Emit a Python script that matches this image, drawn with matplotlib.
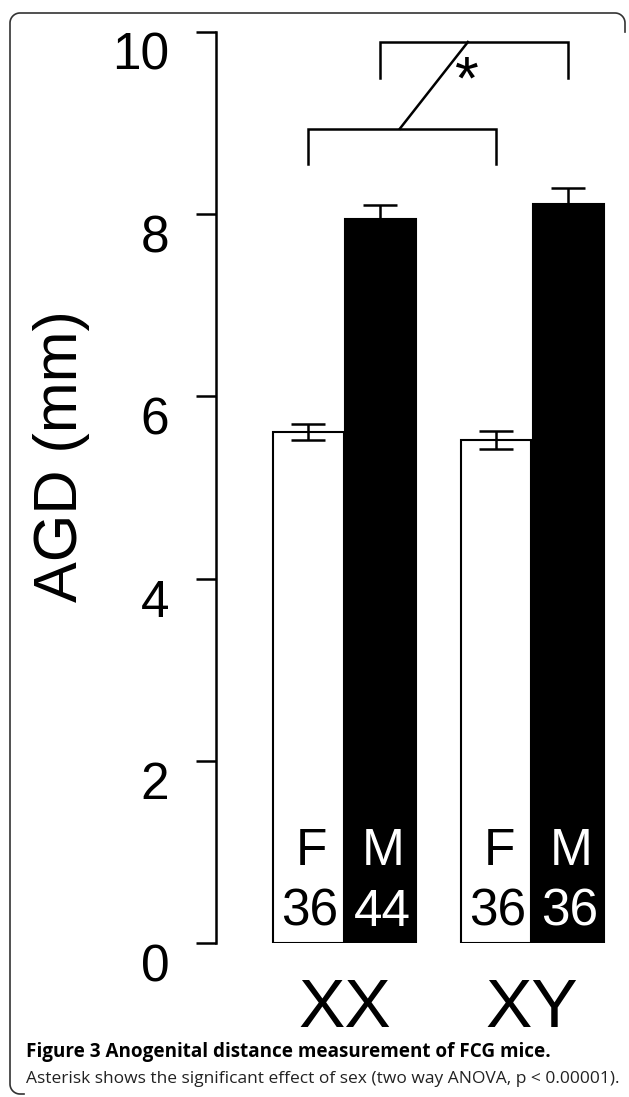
import numpy as np
import matplotlib
matplotlib.use("Agg")
import matplotlib.pyplot as plt
from matplotlib.lines import Line2D

plt.rcParams['font.family'] = ['Liberation Sans', 'DejaVu Sans']

# data
groups = ['XX', 'XY']
sexes = ['F', 'M', 'F', 'M']
agd_mean = [5.61, 7.95, 5.52, 8.11]
agd_sem = [0.09, 0.15, 0.10, 0.18]
n_mice = [36, 44, 36, 36]
bar_pos = [0.0, 1.0, 2.6, 3.6]
bar_colors = ['white', 'black', 'white', 'black']
text_colors = ['black', 'white', 'black', 'white']
yticks = [0, 2, 4, 6, 8, 10]

# significance brackets (female pair below, male pair above)
lower_br = 8.94
upper_br = 9.89
leg_drop = 0.39

W, H = 629, 1097
fig = plt.figure(figsize=(W / 100, H / 100), dpi=100)
ax_left, ax_top, ax_bot = 215.7, 32, 943
ax = fig.add_axes([ax_left / W, 1 - ax_bot / H, (W - ax_left) / W, (ax_bot - ax_top) / H])

ax.bar(bar_pos, agd_mean, width=0.98, color=bar_colors, edgecolor='black',
       linewidth=1.5, zorder=2)
ax.errorbar(bar_pos, agd_mean, yerr=agd_sem, fmt='none', ecolor='black',
            elinewidth=1.8, capsize=12.5, capthick=1.8, zorder=3)

for x, s, n, c in zip(bar_pos, sexes, n_mice, text_colors):
    ax.text(x + 0.04, 0.86, s, ha='center', va='baseline', fontsize=37, color=c, zorder=4)
    ax.text(x + 0.02, 0.19, str(n), ha='center', va='baseline', fontsize=37, color=c, zorder=4)

for i, g in enumerate(groups):
    xc = (bar_pos[2 * i] + bar_pos[2 * i + 1]) / 2
    ax.text(xc, -0.92, g, ha='center', va='baseline', fontsize=50, clip_on=False)

# brackets
f0, f1 = bar_pos[0], bar_pos[2]
m0, m1 = bar_pos[1], bar_pos[3]
ax.plot([f0, f0, f1, f1], [lower_br - leg_drop, lower_br, lower_br, lower_br - leg_drop],
        color='black', lw=1.8, solid_joinstyle='miter')
ax.plot([m0, m0, m1, m1], [upper_br - leg_drop, upper_br, upper_br, upper_br - leg_drop],
        color='black', lw=1.8, solid_joinstyle='miter')
ax.plot([1.27, 2.21], [lower_br, upper_br], color='black', lw=1.8)
ax.text(2.2, 9.44, '*', ha='center', va='center', fontsize=44)

ax.set_xlim(-1.28, 4.44)
ax.set_ylim(0, 10)
ax.set_xticks([])
ax.set_yticks(yticks)
ax.tick_params(axis='y', length=14.4, width=1.8, pad=19, labelsize=37)
for lab in ax.get_yticklabels():
    lab.set_verticalalignment('top')
for sp in ['top', 'right', 'bottom']:
    ax.spines[sp].set_visible(False)
ax.spines['left'].set_bounds(0, 10)
ax.spines['left'].set_linewidth(1.8)
ax.patch.set_visible(False)

fig.text(62 / W, 1 - 456 / H, 'AGD (mm)', rotation=90, ha='center', va='center', fontsize=44)

# caption
fig.text(26 / W, 1 - 1057 / H, 'Figure 3 Anogenital distance measurement of FCG mice.',
         fontsize=13.6, fontweight='bold', family='Open Sans', va='baseline')
fig.text(26 / W, 1 - 1083 / H,
         'Asterisk shows the significant effect of sex (two way ANOVA, p < 0.00001).',
         fontsize=12.5, family='Open Sans', va='baseline', color='#222222')

# rounded frame around the figure
r = 10
def arc(cx, cy, a0, a1):
    t = np.radians(np.linspace(a0, a1, 20))
    return list(cx + r * np.cos(t)), list(cy - r * np.sin(t))

xs, ys = [625], [32]
for (cx, cy, a0, a1) in [(615, 23, 0, 90), (20, 23, 90, 180), (20, 1084, 180, 270)]:
    ax_, ay_ = arc(cx, cy, a0, a1)
    xs += ax_
    ys += ay_
xs.append(24)
ys.append(1094)
fig.add_artist(Line2D(np.array(xs) / W, 1 - np.array(ys) / H, color='#333333', lw=1.2,
                      transform=fig.transFigure))

fig.savefig('out.png', dpi=100)
